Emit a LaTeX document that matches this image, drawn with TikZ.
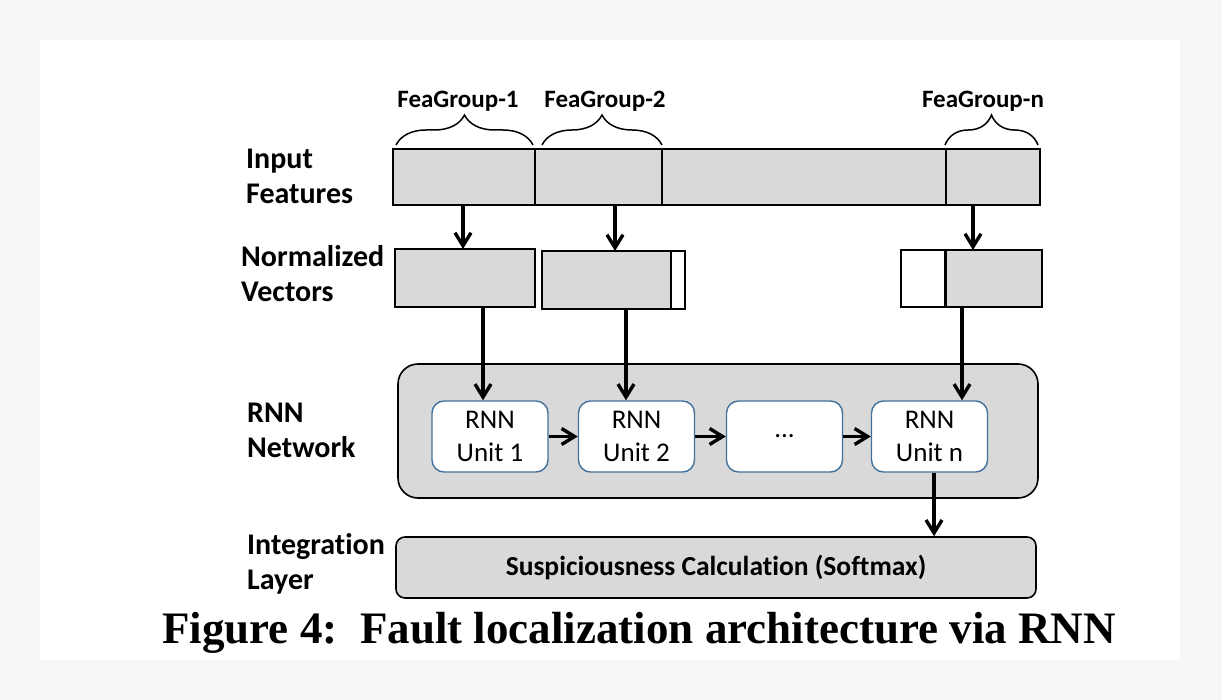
\documentclass[tikz,border=0pt]{standalone}
\usepackage{fontspec}
\setsansfont{Carlito}[Ligatures=NoCommon]
\newfontfamily\capfont{Liberation Serif}
\usetikzlibrary{
  arrows.meta,
  positioning,
  decorations.pathreplacing, % braces over the feature groups
}
\definecolor{boxgray}{HTML}{D9D9D9}
\definecolor{unitblue}{HTML}{41719C}
\definecolor{pagegray}{HTML}{F6F6F6}
\tikzset{
  font=\sffamily,
  >={Straight Barb[length=13pt,width=16pt]},
  feat/.style={
    draw,
    fill=boxgray,
    line width=1.6pt,
    outer sep=0pt,
    inner sep=0pt,
    rectangle
  },
  pad/.style={
    feat,
    fill=white
  },
  layer label/.style={
    anchor=west,
    align=left,
    inner sep=0pt,
    font=\sffamily\bfseries\fontsize{30}{35}\selectfont
  },
  group label/.style={
    inner sep=0pt,
    font=\sffamily\bfseries\fontsize{25}{28}\selectfont
  },
  my unit/.style={
    draw=unitblue,
    fill=white,
    line width=1.4pt,
    rounded corners=12pt,
    minimum width=116pt,
    minimum height=71pt,
    align=center,
    inner sep=0pt,
    font=\sffamily\fontsize{27}{33}\selectfont
  },
  my layer/.style={
    draw,
    fill=boxgray,
    line width=1.6pt,
    minimum width=640pt,
    inner sep=0pt
  },
  conn/.style={
    ->,
    line width=3.4pt
  },
  grp brace/.style={
    decorate,
    decoration={brace,amplitude=30pt},
    line width=1.5pt
  }
}
\begin{document}
\begin{tikzpicture}[x=1pt,y=-1pt]
% page
\fill[pagegray] (0,0) rectangle (1222,700);
\fill[white] (40,40) rectangle (1180,660);
\useasboundingbox (0,0) rectangle (1222,700);

% layer names
\node[layer label] (lin)  at (246,176.5) {Input\\Features};
\node[layer label] (lnv)  at (241,274)   {Normalized\\Vectors};
\node[layer label] (lrnn) at (247,430)   {RNN\\Network};
\node[layer label] (lint) at (247,564)   {Integration\\Layer};

% input features
\node[feat, minimum width=142pt, minimum height=56pt] (f1)   at (464,177)   {};
\node[feat, minimum width=127pt, minimum height=56pt] (f2)   at (598.5,177) {};
\node[feat, minimum width=284pt, minimum height=56pt] (fmid) at (804,177)   {};
\node[feat, minimum width=94pt,  minimum height=56pt] (fn)   at (993,177)   {};

% feature groups
\draw[grp brace] ([xshift=3pt,yshift=4pt]f1.north west) -- ([xshift=-2pt,yshift=4pt]f1.north east);
\draw[grp brace] ([xshift=7pt,yshift=4pt]f2.north west) -- ([yshift=4pt]f2.north east);
\draw[grp brace] ([xshift=-1pt,yshift=4pt]fn.north west) -- ([xshift=-2pt,yshift=4pt]fn.north east);
\node[group label] (g1) at (458,101) {FeaGroup-1};
\node[group label] (g2) at (605,101) {FeaGroup-2};
\node[group label] (gn) at (983,101) {FeaGroup-n};

% normalized vectors
\node[feat, minimum width=140pt, minimum height=58pt] (n1)   at (465,278)   {};
\node[feat, minimum width=129pt, minimum height=58pt] (n2)   at (606.5,280) {};
\node[pad,  minimum width=14pt,  minimum height=58pt, right=0pt of n2] (n2p) {};
\node[feat, minimum width=96pt,  minimum height=57pt] (nn)   at (994,278.5) {};
\node[pad,  minimum width=44pt,  minimum height=57pt, left=1pt of nn] (nnp) {};

\draw[conn] ([xshift=-1pt]f1.south) -- ([xshift=-1pt]f1.south |- n1.north);
\draw[conn] ([xshift=16.5pt]f2.south) -- ([xshift=16.5pt]f2.south |- n2.north);
\draw[conn] ([xshift=-20pt]fn.south) -- ([xshift=-20pt]fn.south |- nn.north);

% rnn network
\node[my layer, minimum height=134pt, rounded corners=20pt] (rnn) at (718,431) {};
\node[my unit] (u1)  at (490,436.5)   {RNN\\Unit 1};
\node[my unit] (u2)  at (636.5,436.5) {RNN\\Unit 2};
\node[my unit] (udt) at (784.5,436.5) {...};
\node[my unit] (un)  at (929.5,436.5) {RNN\\Unit n};

\draw[conn] (u1) -- (u2);
\draw[conn] (u2) -- (udt);
\draw[conn] (udt) -- (un);

\draw[conn] ([xshift=18pt]n1.south) -- ([xshift=18pt]n1.south |- u1.north);
\draw[conn] ([xshift=19.5pt]n2.south) -- ([xshift=19.5pt]n2.south |- u2.north);
\draw[conn] ([xshift=-32pt]nn.south) -- ([xshift=-32pt]nn.south |- un.north);

% integration layer
\node[my layer, minimum height=61pt, rounded corners=9pt,
      font=\sffamily\bfseries\fontsize{27.5}{30}\selectfont] (int) at (716,567.5)
  {Suspiciousness Calculation (Softmax)};
\draw[conn] ([xshift=4.5pt]un.south) -- ([xshift=4.5pt]un.south |- int.north);

% caption
\node[font=\capfont\bfseries\fontsize{45}{48}\selectfont, inner sep=0pt] (cap) at (639,633)
  {Figure 4:\ \ Fault localization architecture via RNN};
\end{tikzpicture}
\end{document}
